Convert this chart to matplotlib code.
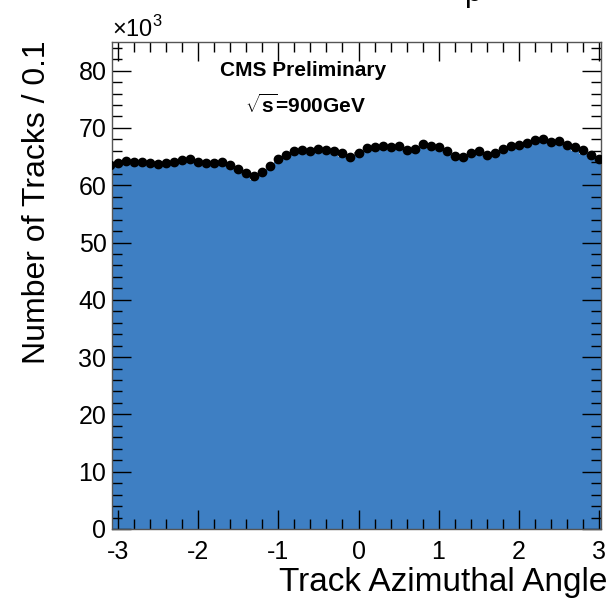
import numpy as np
import matplotlib
matplotlib.use("Agg")
import matplotlib.pyplot as plt
from matplotlib.ticker import MultipleLocator

plt.rcParams['font.family'] = ['Liberation Sans', 'DejaVu Sans']
plt.rcParams['mathtext.fontset'] = 'custom'
plt.rcParams['mathtext.rm'] = 'Liberation Sans'
plt.rcParams['mathtext.bf'] = 'Liberation Sans:bold'

# Track azimuthal angle, bins of 0.1 (centres)
bin_centers = [round(-3.1 + 0.1 * i, 1) for i in range(63)]

# Data counts per bin (x10^3)
data_counts = [
    63.6, 63.9, 64.2, 64.0, 64.1, 63.9, 63.7, 63.8, 64.1, 64.4,
    64.6, 64.1, 63.9, 63.8, 64.0, 63.5, 62.9, 62.2, 61.6, 62.3,
    63.4, 64.5, 65.3, 65.9, 66.1, 66.0, 66.3, 66.2, 66.0, 65.6,
    65.0, 65.7, 66.5, 66.7, 66.9, 66.6, 66.8, 66.1, 66.4, 67.2,
    66.8, 66.6, 65.9, 65.1, 65.0, 65.6, 66.0, 65.2, 65.6, 66.3,
    66.8, 67.0, 67.3, 67.9, 68.0, 67.6, 67.8, 67.0, 66.6, 66.1,
    65.2, 64.6, 63.8,
]

# Simulation counts per bin (x10^3)
mc_counts = [
    63.2, 63.5, 63.7, 63.6, 63.5, 63.4, 63.3, 63.5, 63.8, 64.0,
    64.0, 63.7, 63.4, 63.3, 63.5, 63.0, 62.4, 61.6, 61.0, 61.8,
    62.9, 64.0, 64.8, 65.3, 65.6, 65.5, 65.7, 65.7, 65.5, 65.0,
    64.4, 65.2, 66.0, 66.2, 66.4, 66.2, 66.3, 65.6, 65.9, 66.7,
    66.3, 66.1, 65.4, 64.6, 64.5, 65.0, 65.5, 64.7, 65.0, 65.8,
    66.3, 66.5, 66.8, 67.4, 67.5, 67.0, 67.3, 66.5, 66.0, 65.5,
    64.7, 63.8, 63.3,
]

x_ticks = [-3, -2, -1, 0, 1, 2, 3]
y_ticks = [0, 10, 20, 30, 40, 50, 60, 70, 80]

bin_width = 0.1
centers = np.array(bin_centers)
data = np.array(data_counts)
mc = np.array(mc_counts)
edges = np.append(centers - bin_width / 2, centers[-1] + bin_width / 2)

W, H = 609, 601
fig = plt.figure(figsize=(W / 100, H / 100), dpi=100)
ax = fig.add_axes([112 / W, 1 - 529 / H, (601 - 112) / W, (529 - 42) / H])

ax.stairs(mc, edges, baseline=0, fill=True, color='#3e7fc3', zorder=1)
ax.errorbar(centers, data, xerr=bin_width / 2, yerr=np.sqrt(data * 1000) / 1000,
            fmt='o', color='black', ms=6, elinewidth=2.2, capsize=0, zorder=3)

ax.set_xlim(-3.08, 3.03)
ax.set_ylim(0, 85)
ax.set_xticks(x_ticks)
ax.set_yticks(y_ticks)
ax.xaxis.set_minor_locator(MultipleLocator(0.2))
ax.yaxis.set_minor_locator(MultipleLocator(2))
ax.tick_params(which='both', direction='in', top=True, right=True,
               labelsize=18, colors='black', width=1.0)
ax.tick_params(which='major', length=14)
ax.tick_params(which='minor', length=7)
ax.tick_params(axis='x', pad=8)
ax.tick_params(axis='y', pad=4)
for s in ax.spines.values():
    s.set_color('#555555')
    s.set_linewidth(1.0)

ax.set_xticklabels([str(v) for v in x_ticks])
ax.set_yticklabels([str(v) for v in y_ticks])

fig.text(607 / W, 1 - 591 / H, 'Track Azimuthal Angle', ha='right', va='baseline', fontsize=24)
fig.text(37 / W, 1 - 40 / H, 'Number of Tracks / 0.1', ha='center', va='top',
         rotation=90, fontsize=23)
fig.text(112 / W, 1 - 37 / H, r'$\times$10$^{3}$', ha='left', va='baseline', fontsize=17)

fig.text(303 / W, 1 - 76 / H, 'CMS Preliminary', ha='center', va='baseline',
         fontsize=15, fontweight='bold')
fig.text(305 / W, 1 - 113 / H, r'$\mathbf{\sqrt{s}}$=900GeV', ha='center', va='baseline',
         fontsize=15, fontweight='bold')

fig.text(473 / W, 1 - 1 / H, 'p', ha='center', va='baseline', fontsize=22)

fig.savefig('out.png', dpi=100)
